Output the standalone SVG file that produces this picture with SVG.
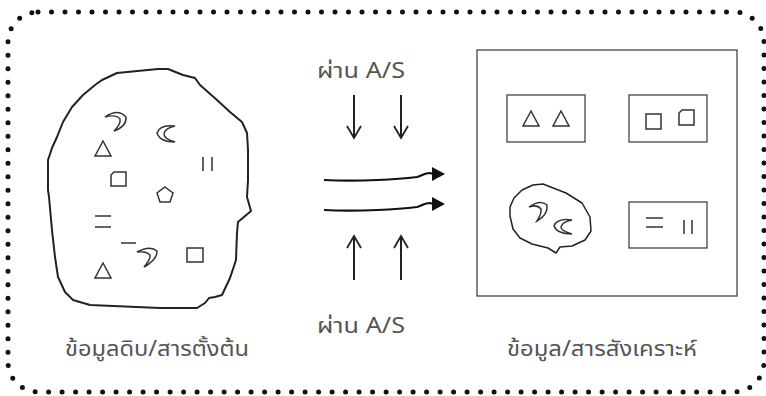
<svg xmlns="http://www.w3.org/2000/svg" width="766" height="396" viewBox="0 0 766 396">
<style>
.txt{font-family:"Noto Sans Thai","Noto Sans","DejaVu Sans",sans-serif;font-size:21px;fill:#555}
.blob{fill:none;stroke:#222;stroke-width:2;stroke-linejoin:round}
.sym{fill:none;stroke:#333;stroke-width:1.5}
.box{fill:none;stroke:#444;stroke-width:1.3}
.arr{fill:none;stroke:#222;stroke-width:2}
.vee{fill:none;stroke:#222;stroke-width:1.8;stroke-linejoin:miter}
.curve{fill:none;stroke:#111;stroke-width:2.2}
.head{fill:#111}
</style>
<rect x="8" y="12" width="756" height="380" rx="30" fill="none" stroke="#111" stroke-width="5" stroke-linecap="round" stroke-dasharray="0 13.5"/>

<g id="raw">
<path class="blob" d="M158,69 L117,73 L102,80 L95,85 L83,95 L72,107 L63,122 L57,137 L52,148 L48,160 L48,190 L49,197 L52,230 L55,257 L58,277 L65,292 L73,300 L90,305 L160,308 L180,308 L197,308 L205,303 L209,298 L215,297 L222,295 L230,278 L236,260 L237,233 L238,222 L251,211 L247,197 L248,180 L248,150 L247,133 L242,122 L230,112 L217,100 L200,85 L195,78 L183,75 L168,69 Z"/>
<path class="sym" d="M105,117 Q118,108 126,117 Q127,126 114,131 Q121,124 120,119 Q116,114 105,117 Z"/>
<path class="sym" d="M175,126 Q160,124 157,133 Q160,142 175,142 Q164,139 164,134 Q165,128 175,126 Z"/>
<path class="sym" d="M103,141 L111,156 L95,156 Z"/>
<path class="sym" d="M203,157 V171 M212,157 V171"/>
<path class="sym" d="M114,172 H126 V186 H111 V175 Z"/>
<path class="sym" d="M165,187 L173,193 L170,202 L160,202 L157,193 Z"/>
<path class="sym" d="M95,216 H111 M95,227 H111"/>
<path class="sym" d="M121,243 H136"/>
<path class="sym" d="M137,252 Q150,245 157,251 Q157,260 144,267 Q151,259 150,255 Q146,251 137,252 Z"/>
<rect class="sym" x="187" y="248" width="16" height="14"/>
<path class="sym" d="M103,263 L111,278 L95,278 Z"/>
<text class="txt" x="157" y="356" text-anchor="middle" textLength="184" lengthAdjust="spacingAndGlyphs">ข้อมูลดิบ/สารตั้งต้น</text>
</g>

<g id="process">
<text class="txt" x="361" y="78" text-anchor="middle" textLength="88" lengthAdjust="spacingAndGlyphs">ผ่าน A/S</text>
<text class="txt" x="361" y="333" text-anchor="middle" textLength="88" lengthAdjust="spacingAndGlyphs">ผ่าน A/S</text>
</g>

<g id="result">
<rect class="box" x="477" y="50" width="260" height="246"/>
<rect class="box" x="507" y="95" width="78" height="47"/>
<path class="sym" d="M531,111 L539,126 L523,126 Z M561,111 L569,126 L553,126 Z"/>
<rect class="box" x="629" y="95" width="78" height="47"/>
<rect class="sym" x="646" y="114" width="15" height="15"/>
<path class="sym" d="M682,110 H694 V125 H679 V113 Z"/>
<path class="blob" d="M543,184 L533,185 L522,190 L514,198 L510,207 L510,216 L513,229 L520,238 L532,244 L548,248 L556,253 L560,247 L572,246 L585,240 L591,231 L590,217 L582,203 L566,193 Z" style="stroke-width:1.5"/>
<path class="sym" d="M529,207 Q540,199 547,205 Q548,215 537,221 Q542,213 541,209 Q537,204 529,207 Z"/>
<path class="sym" d="M572,220 Q557,218 554,226 Q557,234 572,234 Q561,231 561,227 Q562,222 572,220 Z"/>
<rect class="box" x="629" y="202" width="78" height="46"/>
<path class="sym" d="M646,218 H663 M646,227 H663 M684,220 V234 M692,220 V234"/>
<text class="txt" x="602" y="356" text-anchor="middle" textLength="190" lengthAdjust="spacingAndGlyphs">ข้อมูล/สารสังเคราะห์</text>
</g>

<g id="connectors">
<line class="arr" x1="354" y1="95" x2="354" y2="138"/>
<path class="vee" d="M347,126 L354,138 L361,126"/>
<line class="arr" x1="401" y1="95" x2="401" y2="138"/>
<path class="vee" d="M394,126 L401,138 L408,126"/>
<line class="arr" x1="354" y1="280" x2="354" y2="236"/>
<path class="vee" d="M347,248 L354,236 L361,248"/>
<line class="arr" x1="401" y1="280" x2="401" y2="236"/>
<path class="vee" d="M394,248 L401,236 L408,248"/>
<path class="curve" d="M324,180 C360,182 400,179 417,177 C422,176 424,173 430,173 L434,174"/>
<path class="head" d="M432,167 L445,174 L432,181 Z"/>
<path class="curve" d="M324,210 C360,212 400,209 417,207 C422,206 424,203 430,203 L434,204"/>
<path class="head" d="M432,197 L445,204 L432,211 Z"/>
</g>
</svg>
